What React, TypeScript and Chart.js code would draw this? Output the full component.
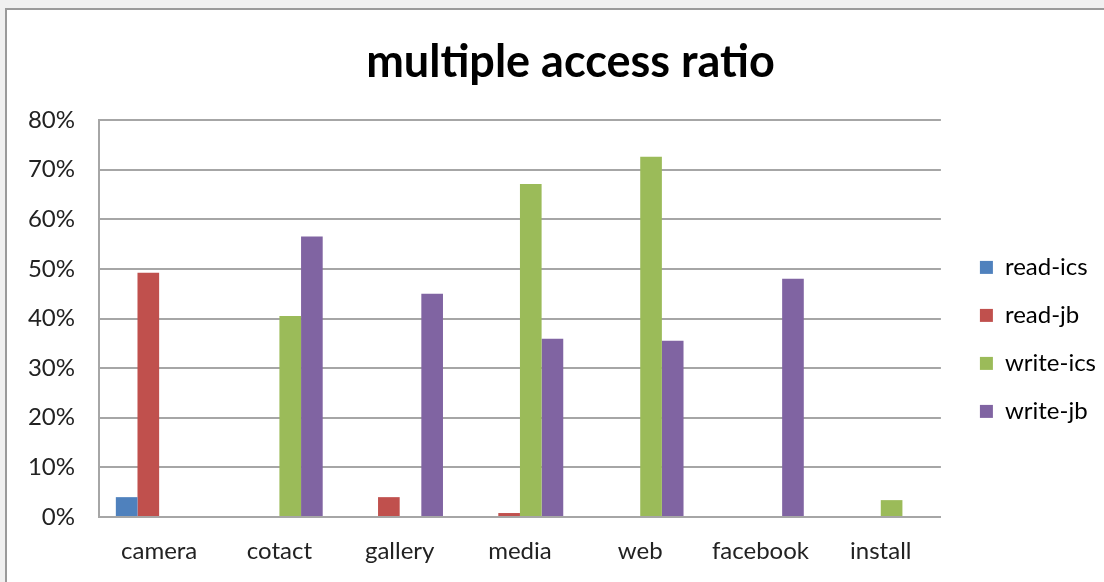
import React, { useEffect, useRef } from 'react';
import { Chart, registerables } from 'chart.js';

Chart.register(...registerables);

const categories = ['camera', 'cotact', 'gallery', 'media', 'web', 'facebook', 'install'];
const readIcs = [4.0, 0, 0, 0, 0, 0, 0];
const readJb = [49.2, 0, 4.0, 0.8, 0, 0, 0];
const writeIcs = [0, 40.5, 0, 67.1, 72.6, 0, 3.4];
const writeJb = [0, 56.5, 45.0, 35.9, 35.5, 48.0, 0];
const seriesNames = ['read-ics', 'read-jb', 'write-ics', 'write-jb'];
const seriesColors = ['#4F81BD', '#C0504D', '#9BBB59', '#8064A2'];
const yMin = 0;
const yMax = 80;
const yStep = 10;
const titleText = 'multiple access ratio';

const FONT = 'Lato, "Open Sans", sans-serif';

const shiftPlugin = {
  id: 'shiftBlocks',
  afterLayout(chart: any) {
    const t = chart.titleBlock;
    if (t) {
      t.left += 40;
    }
    const l = chart.legend;
    if (l) {
      l.left += 15;
      l.right += 15;
    }
  },
};

export default function App() {
  const ref = useRef<HTMLCanvasElement | null>(null);

  useEffect(() => {
    if (!ref.current) return;
    const values = [readIcs, readJb, writeIcs, writeJb];
    const chart = new Chart(ref.current, {
      type: 'bar',
      data: {
        labels: categories,
        datasets: values.map((v, i) => ({
          label: seriesNames[i],
          data: v.map((x) => (x === 0 ? null : x)),
          backgroundColor: seriesColors[i],
          borderWidth: 0,
          barPercentage: 1,
          categoryPercentage: 0.72,
        })),
      },
      plugins: [shiftPlugin],
      options: {
        responsive: false,
        animation: false,
        layout: { padding: { left: 10, right: 13, top: 0, bottom: 16 } },
        plugins: {
          title: {
            display: true,
            text: titleText,
            color: '#000',
            font: { family: FONT, size: 45, weight: 'bold' },
            padding: { top: 35, bottom: 31 },
          },
          legend: {
            position: 'right',
            title: { display: true, text: '', padding: { top: 0, bottom: 84 }, font: { family: FONT, size: 24 } },
            labels: {
              boxWidth: 13,
              boxHeight: 13,
              color: '#000',
              padding: 24,
              font: { family: FONT, size: 24 },
            },
          },
          tooltip: { enabled: false },
        },
        scales: {
          x: {
            grid: { display: false, drawTicks: false },
            border: { display: true, color: '#a6a6a6', width: 2 },
            ticks: { color: '#222', padding: 20, font: { family: FONT, size: 24 } },
            afterFit: (s: any) => {
              s.height = 49;
            },
          },
          y: {
            min: yMin,
            max: yMax,
            ticks: {
              stepSize: yStep,
              color: '#222',
              padding: 24,
              font: { family: FONT, size: 24 },
              callback: (v: any) => v + '%',
            },
            grid: { color: '#a6a6a6', lineWidth: 2, drawTicks: false },
            border: { display: true, color: '#a6a6a6', width: 2 },
            afterFit: (s: any) => {
              s.width = 89;
            },
          },
        },
      },
    });
    return () => chart.destroy();
  }, []);

  return (
    <div style={{ position: 'absolute', left: 0, top: 0, width: 1104, height: 582, overflow: 'hidden', background: '#f0f0f0' }}>
      <div style={{ position: 'absolute', left: 5, top: 8, width: 1110, height: 600, background: '#fff', border: '2px solid #9a9a9a', boxSizing: 'border-box' }} />
      <canvas ref={ref} width={1104} height={582} style={{ position: 'absolute', left: 0, top: 0 }} />
    </div>
  );
}
